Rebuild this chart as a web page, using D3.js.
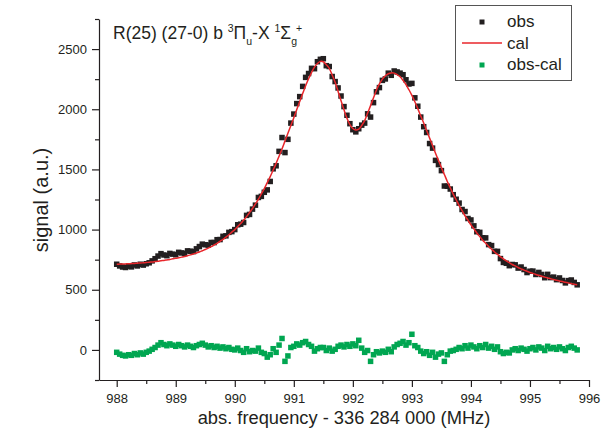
<!DOCTYPE html>
<html>
<head>
  <meta charset="utf-8"/>
  <title>R(25) (27-0) line profile</title>
  <style>
    body { margin: 0; background: #fff; }
    text { font-family: "Liberation Sans", Arial, sans-serif; fill: #231f20; }
  </style>
  <script src="https://d3js.org/d3.v7.min.js"></script>
</head>
<body>
<div id="my_dataviz"></div>
<script>
// frequency grid (MHz, offset from 336 284 000)
var freq = [
  988.00,988.05,988.10,988.15,988.20,988.25,988.30,988.35,988.40,988.45,
  988.50,988.55,988.60,988.65,988.70,988.75,988.80,988.85,988.90,988.95,
  989.00,989.05,989.10,989.15,989.20,989.25,989.30,989.35,989.40,989.45,
  989.50,989.55,989.60,989.65,989.70,989.75,989.80,989.85,989.90,989.95,
  990.00,990.05,990.10,990.15,990.20,990.25,990.30,990.35,990.40,990.45,
  990.50,990.55,990.60,990.65,990.70,990.75,990.80,990.85,990.90,990.95,
  991.00,991.05,991.10,991.15,991.20,991.25,991.30,991.35,991.40,991.45,
  991.50,991.55,991.60,991.65,991.70,991.75,991.80,991.85,991.90,991.95,
  992.00,992.05,992.10,992.15,992.20,992.25,992.30,992.35,992.40,992.45,
  992.50,992.55,992.60,992.65,992.70,992.75,992.80,992.85,992.90,992.95,
  993.00,993.05,993.10,993.15,993.20,993.25,993.30,993.35,993.40,993.45,
  993.50,993.55,993.60,993.65,993.70,993.75,993.80,993.85,993.90,993.95,
  994.00,994.05,994.10,994.15,994.20,994.25,994.30,994.35,994.40,994.45,
  994.50,994.55,994.60,994.65,994.70,994.75,994.80,994.85,994.90,994.95,
  995.00,995.05,995.10,995.15,995.20,995.25,995.30,995.35,995.40,995.45,
  995.50,995.55,995.60,995.65,995.70,995.75,995.80
]

var obs = [
  712,698,689,685,696,690,706,698,712,705,
  716,724,740,758,780,800,789,783,802,796,
  791,811,806,802,823,820,817,840,859,879,
  874,871,893,892,916,917,944,948,977,983,
  1000,1040,1045,1059,1118,1126,1170,1203,1267,1276,
  1310,1330,1400,1505,1530,1650,1765,1640,1750,1885,
  1960,2047,2105,2190,2265,2297,2340,2337,2395,2415,
  2420,2362,2355,2272,2230,2177,2110,2022,1950,1880,
  1830,1812,1838,1868,1885,1962,1935,2055,2145,2180,
  2240,2252,2300,2282,2318,2310,2300,2287,2245,2210,
  2215,2095,2025,1935,1855,1807,1715,1677,1575,1540,
  1490,1362,1360,1337,1290,1252,1220,1167,1150,1092,
  1080,1031,982,977,932,931,875,867,819,819,
  759,727,720,700,710,707,680,689,668,643,
  654,655,627,644,627,600,628,601,605,584,
  598,577,557,576,581,561,541
]

var cal = [
  712,713,714,715,716,718,719,721,722,724,
  726,729,731,734,737,741,744,748,752,757,
  761,766,771,777,783,790,797,806,814,824,
  834,846,858,872,886,903,919,938,957,979,
  1000,1025,1050,1079,1108,1142,1175,1214,1252,1296,
  1340,1390,1440,1495,1550,1610,1670,1735,1800,1865,
  1930,1998,2065,2130,2195,2253,2305,2350,2380,2398,
  2395,2370,2340,2285,2225,2148,2070,1995,1925,1873,
  1840,1828,1835,1865,1905,1968,2030,2095,2160,2210,
  2250,2278,2295,2302,2300,2288,2270,2240,2205,2162,
  2115,2062,2005,1945,1885,1823,1760,1698,1635,1575,
  1515,1458,1400,1348,1295,1248,1200,1158,1115,1078,
  1040,1006,972,942,912,886,860,837,814,794,
  774,757,740,725,710,698,685,674,663,654,
  644,636,627,620,612,605,598,592,585,579,
  573,568,562,557,551,546,541
]

var obsCal = [
  -20,-35,-45,-50,-40,-45,-30,-40,-25,-35,
  -20,-10,5,20,40,60,45,35,50,40,
  30,45,35,25,40,30,20,35,45,55,
  40,25,35,20,30,15,25,10,20,5,
  0,15,-5,-20,10,-15,-5,-10,15,-20,
  -30,-60,-40,10,-20,40,95,-95,-50,20,
  30,50,40,60,70,45,30,-10,10,20,
  20,-5,15,-10,5,30,40,25,45,30,
  50,35,80,15,-20,-5,-95,-40,-15,-25,
  -10,-20,5,-15,25,45,55,70,40,60,
  130,35,20,-10,-30,-15,-45,-20,-60,-35,
  -25,-95,-40,-10,-5,5,20,10,35,15,
  40,25,10,35,20,45,15,30,5,25,
  -15,-30,-20,-25,0,10,-5,15,5,-10,
  10,20,0,25,15,-5,30,10,20,5,
  25,10,-5,20,30,15,0
]

var xTicks = [988, 989, 990, 991, 992, 993, 994, 995, 996]
var xMinor = [988.5, 989.5, 990.5, 991.5, 992.5, 993.5, 994.5, 995.5]
var yTicks = [0, 500, 1000, 1500, 2000, 2500]
var yMinor = [-250, 250, 750, 1250, 1750, 2250, 2750]

var width = 615
    height = 441

var svg = d3.select("#my_dataviz")
  .append("svg")
    .attr("width", width)
    .attr("height", height)

var x = d3.scaleLinear().domain([987.7, 996]).range([99, 589])
var y = d3.scaleLinear().domain([-250, 2750]).range([380, 19])

var axisColor = "#231f20"

// minor ticks first, then major axes on top
svg.append("g")
    .attr("transform", "translate(0,380)")
    .call(d3.axisBottom(x).tickValues(xMinor).tickSize(4).tickFormat(""))
    .call(function(g) { g.select(".domain").remove() })
svg.append("g")
    .attr("transform", "translate(99,0)")
    .call(d3.axisLeft(y).tickValues(yMinor).tickSize(4).tickFormat(""))
    .call(function(g) { g.select(".domain").remove() })

var xAxis = svg.append("g")
    .attr("transform", "translate(0,380)")
    .call(d3.axisBottom(x).tickValues(xTicks).tickSize(7).tickSizeOuter(0).tickPadding(7).tickFormat(d3.format("d")))
var yAxis = svg.append("g")
    .attr("transform", "translate(99,0)")
    .call(d3.axisLeft(y).tickValues(yTicks).tickSize(7).tickSizeOuter(0).tickPadding(5).tickFormat(d3.format("d")))

svg.selectAll(".tick line, .domain")
    .attr("stroke", axisColor)
    .attr("stroke-width", 1.2)
svg.selectAll(".tick text")
    .style("font-family", "'Liberation Sans', Arial, sans-serif")
    .style("font-size", "13px")
    .attr("fill", axisColor)

// axis titles
svg.append("text")
    .attr("x", 344)
    .attr("y", 424)
    .attr("text-anchor", "middle")
    .style("font-size", "18.3px")
    .text("abs. frequency - 336 284 000 (MHz)")
svg.append("text")
    .attr("transform", "translate(48,200) rotate(-90)")
    .attr("text-anchor", "middle")
    .style("font-size", "20px")
    .text("signal (a.u.)")

var pts = freq.map(function(f, i) { return { f: f, obs: obs[i], cal: cal[i], res: obsCal[i] } })
var s = 5.5

// observed points
svg.append("g")
  .selectAll("rect")
  .data(pts)
  .enter()
  .append("rect")
    .attr("x", function(d) { return x(d.f) - s / 2 })
    .attr("y", function(d) { return y(d.obs) - s / 2 })
    .attr("width", s)
    .attr("height", s)
    .attr("fill", "#231f20")

// residuals
svg.append("g")
  .selectAll("rect")
  .data(pts)
  .enter()
  .append("rect")
    .attr("x", function(d) { return x(d.f) - s / 2 })
    .attr("y", function(d) { return y(d.res) - s / 2 })
    .attr("width", s)
    .attr("height", s)
    .attr("fill", "#00a651")

// calculated profile
svg.append("path")
    .datum(pts)
    .attr("fill", "none")
    .attr("stroke", "#e8262b")
    .attr("stroke-width", 1.5)
    .attr("d", d3.line()
      .curve(d3.curveCatmullRom)
      .x(function(d) { return x(d.f) })
      .y(function(d) { return y(d.cal) }))

// title with term symbols
var title = svg.append("text")
    .attr("x", 113)
    .attr("y", 39)
    .style("font-size", "17.5px")
title.append("tspan").text("R(25) (27-0) b ")
title.append("tspan").attr("dy", -7).style("font-size", "10.5px").text("3")
title.append("tspan").attr("dy", 7).text("\u03A0")
title.append("tspan").attr("dy", 6).style("font-size", "10.5px").text("u")
title.append("tspan").attr("dy", -6).text("-X ")
title.append("tspan").attr("dy", -7).style("font-size", "10.5px").text("1")
title.append("tspan").attr("dy", 7).text("\u03A3")
title.append("tspan").attr("dy", 6).style("font-size", "10.5px").text("g")
title.append("tspan").attr("dy", -13).attr("dx", -1).style("font-size", "10.5px").text("+")

// legend
var legend = svg.append("g")
legend.append("rect")
    .attr("x", 455.5)
    .attr("y", 5.5)
    .attr("width", 116)
    .attr("height", 75)
    .attr("fill", "#fff")
    .attr("stroke", "#555")
    .attr("stroke-width", 1)
legend.append("rect")
    .attr("x", 479.5).attr("y", 19.5).attr("width", 5).attr("height", 5)
    .attr("fill", "#231f20")
legend.append("line")
    .attr("x1", 462).attr("x2", 502).attr("y1", 43).attr("y2", 43)
    .attr("stroke", "#e8262b").attr("stroke-width", 1.5)
legend.append("rect")
    .attr("x", 479.5).attr("y", 62.5).attr("width", 5).attr("height", 5)
    .attr("fill", "#00a651")
var labels = ["obs", "cal", "obs-cal"]
legend.selectAll("text.lab")
  .data(labels)
  .enter()
  .append("text")
    .attr("class", "lab")
    .attr("x", 507)
    .attr("y", function(d, i) { return 27 + i * 21.5 })
    .style("font-size", "17px")
    .text(function(d) { return d })
</script>
</body>
</html>
